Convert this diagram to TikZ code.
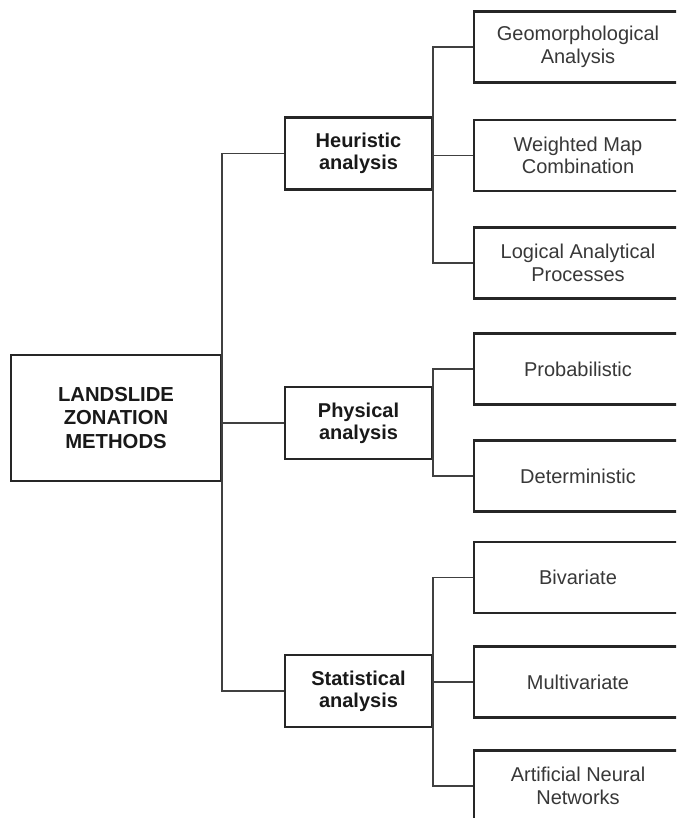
\documentclass[tikz,border=0pt]{standalone}
\usepackage{fontspec}
\setmainfont{Liberation Sans}
\begin{document}
\begin{tikzpicture}[x=0.75pt,y=-0.75pt,
  box/.style={draw=black!85, line width=1.8pt, rectangle, inner sep=0pt, align=center},
  mainbox/.style={box, minimum width=157.5pt, minimum height=94.5pt, text=black!90, font=\bfseries\fontsize{15.2}{17.3}\selectfont},
  midbox/.style={box, minimum width=110.25pt, minimum height=54pt, text=black!90, font=\bfseries\fontsize{15}{16.5}\selectfont},
  leafbox/.style={box, minimum width=156pt, minimum height=53pt, text=black!78, font=\fontsize{15}{17}\selectfont},
  link/.style={draw=black!75, line width=1.3pt}]
\useasboundingbox (0,0) rectangle (676,818);
\clip (0,0) rectangle (676,818);
\fill[white] (0,0) rectangle (676,818);

\node[mainbox] (main) at (116,418) {LANDSLIDE\\ZONATION\\METHODS};

\node[midbox] (heur) at (358.5,153.5) {Heuristic\\analysis};
\node[midbox] (phys) at (358.5,423) {Physical\\analysis};
\node[midbox] (stat) at (358.5,691) {Statistical\\analysis};

\node[leafbox] (geo) at (578,47) {Geomorphological\\Analysis};
\node[leafbox] (wmc) at (578,155.5) {Weighted Map\\Combination};
\node[leafbox] (lap) at (578,263) {Logical Analytical\\Processes};
\node[leafbox] (prob) at (578,369) {Probabilistic};
\node[leafbox] (det) at (578,476) {Deterministic};
\node[leafbox] (biv) at (578,577.5) {Bivariate};
\node[leafbox] (mult) at (578,682) {Multivariate};
\node[leafbox] (ann) at (578,786) {Artificial Neural\\Networks};

% trunk from main
\draw[link] (heur.west) -- (heur.west -| main.east) -- (stat.west -| main.east) -- (stat.west);
\draw[link] (phys.west -| main.east) -- (phys.west);

% heuristic branch
\draw[link] (geo.west) -- (geo.west -| heur.east) -- (lap.west -| heur.east) -- (lap.west);
\draw[link] (wmc.west -| heur.east) -- (wmc.west);

% physical branch
\draw[link] (prob.west) -- (prob.west -| phys.east) -- (det.west -| phys.east) -- (det.west);

% statistical branch
\draw[link] (biv.west) -- (biv.west -| stat.east) -- (ann.west -| stat.east) -- (ann.west);
\draw[link] (mult.west -| stat.east) -- (mult.west);
\end{tikzpicture}
\end{document}
